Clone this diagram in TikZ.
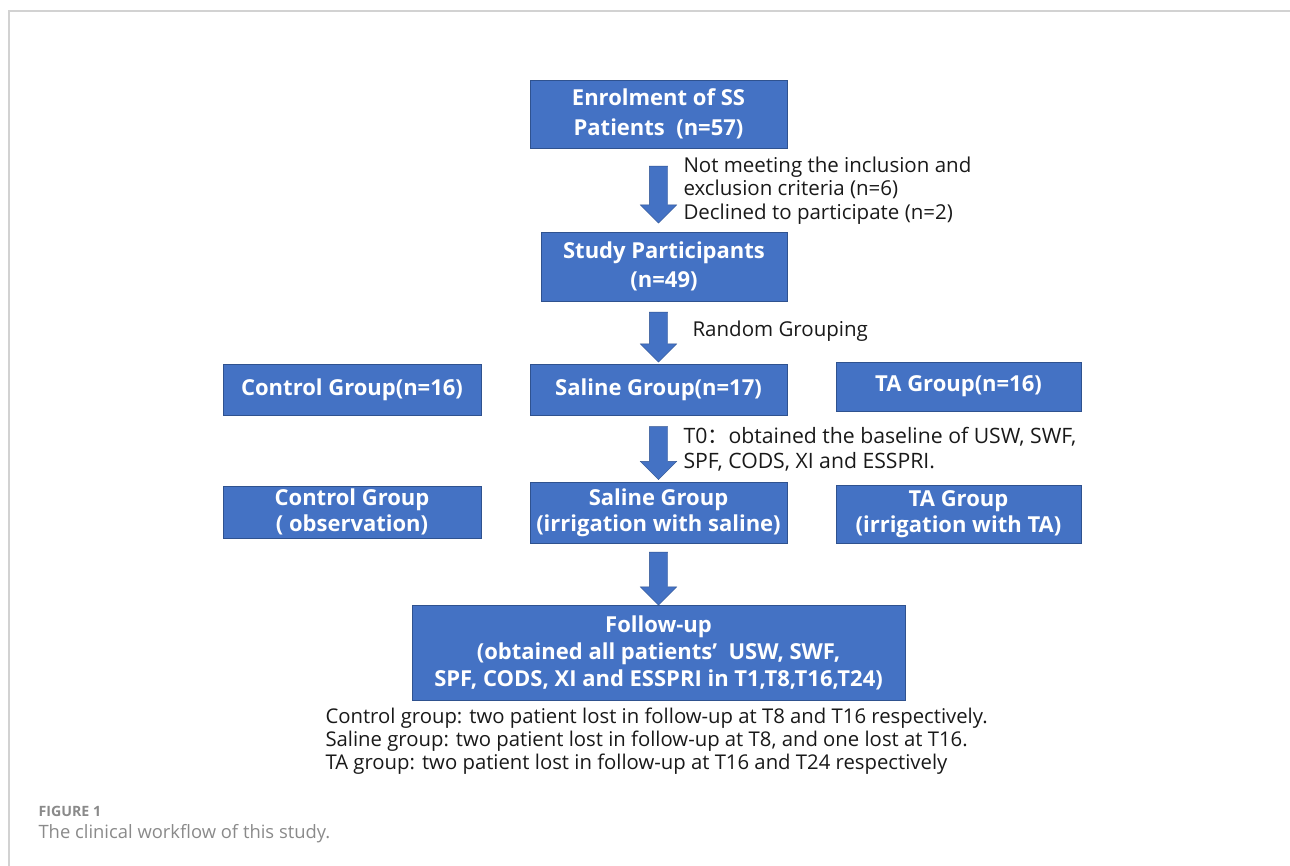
\documentclass[tikz,border=0pt]{standalone}
\usepackage{fontspec}
\setmainfont{Open Sans}
\newfontfamily\capfont{Open Sans}
\newfontfamily\cjk{Noto Sans CJK SC}
\usetikzlibrary{shapes.arrows, positioning}
\definecolor{boxblue}{HTML}{4472C4}
\definecolor{boxedge}{HTML}{2F528F}
\definecolor{framegray}{HTML}{D2D2D2}
\definecolor{capgray}{HTML}{8A8A8A}

\tikzset{
  box/.style={draw=boxedge, line width=0.8pt, fill=boxblue, text=white, align=center,
    inner sep=0pt, font=\bfseries\fontsize{22}{28}\selectfont},
  blockarrow/.style={single arrow, fill=boxblue, draw=boxedge, line width=0.4pt,
    minimum width=36pt, single arrow head extend=9pt, single arrow tip angle=90,
    inner xsep=0pt, inner ysep=9pt, rotate=-90},
  sidetext/.style={anchor=west, align=left, text=black!90, font=\fontsize{20.5}{23.5}\selectfont},
}

\begin{document}
\begin{tikzpicture}[x=1pt, y=-1pt]
    \useasboundingbox (0,0) rectangle (1290,866);
    % frame
    \draw[framegray, line width=1.5pt] (9,866) -- (9,11) -- (1290,11);

    \node[box, minimum width=257pt, minimum height=68pt, font=\bfseries\fontsize{22}{30}\selectfont] (enrol) at (658.5,114) {Enrolment of SS\\Patients\ \ (n=57)};
    \node[box, minimum width=246pt, minimum height=69pt, font=\bfseries\fontsize{22}{29}\selectfont] (study) at (664,266.5) {Study Participants\\(n=49)};

    \node[box, minimum width=257pt, minimum height=51pt] (saline1) at (658.5,389.5) {Saline Group(n=17)};
    \node[box, minimum width=258pt, minimum height=51pt] (control1) at (352,389.5) {Control Group(n=16)};
    \node[box, minimum width=245pt, minimum height=49pt] (ta1) at (958.5,386.5) {TA Group(n=16)};

    \node[box, minimum width=257pt, minimum height=61pt, font=\bfseries\fontsize{22}{26}\selectfont] (saline2) at (658.5,512.5) {Saline Group\\(irrigation with saline)};
    \node[box, minimum width=258pt, minimum height=52pt, font=\bfseries\fontsize{22}{26}\selectfont] (control2) at (352,512) {Control Group\\( observation)};
    \node[box, minimum width=245pt, minimum height=58pt, font=\bfseries\fontsize{22}{26}\selectfont] (ta2) at (958.5,514) {TA Group\\(irrigation with TA)};

    \node[box, minimum width=493pt, minimum height=95pt, font=\bfseries\fontsize{22}{27}\selectfont] (follow) at (658.5,652.5) {Follow-up\\(obtained all patients’\ \ USW, SWF,\\SPF, CODS, XI and ESSPRI in T1,T8,T16,T24)};

    % block arrows
    \path (enrol.south) -- node[blockarrow, minimum height=57pt] (a1) {} (enrol.south |- study.north);
    \path (study.south -| saline1.north) -- node[blockarrow, minimum height=50pt] (a2) {} (saline1.north);
    \path (saline1.south) -- node[blockarrow, minimum height=53pt] (a3) {} (saline2.north);
    \path (saline2.south) -- node[blockarrow, minimum height=53pt] (a4) {} (follow.north);

    % side texts
    \node[sidetext] (excl) at (680,190.5) {Not meeting the inclusion and\\exclusion criteria (n=6)\\Declined to participate (n=2)};
    \node[sidetext] (rand) at (689,331) {Random Grouping};
    \node[sidetext, font=\fontsize{21.2}{25}\selectfont] (base) at (680,449.5) {T0{\cjk ：}obtained the baseline of\ USW, SWF,\\SPF, CODS, XI and ESSPRI.};
    \node[sidetext, font=\fontsize{20.3}{23}\selectfont] (lost) at (322,741) {Control group: two patient lost in follow-up at T8 and T16 respectively.\\Saline group: two patient lost in follow-up at T8, and one lost at T16.\\TA group: two patient lost in follow-up at T16 and T24 respectively};

    % caption
    \node[anchor=west, text=capgray, font=\capfont\bfseries\fontsize{14.2}{16}\selectfont] (fig) at (35,811) {FIGURE 1};
    \node[anchor=west, text=capgray, font=\capfont\fontsize{18.4}{20}\selectfont] (cap) at (35,834) {The clinical workflow of this study.};
\end{tikzpicture}
\end{document}
